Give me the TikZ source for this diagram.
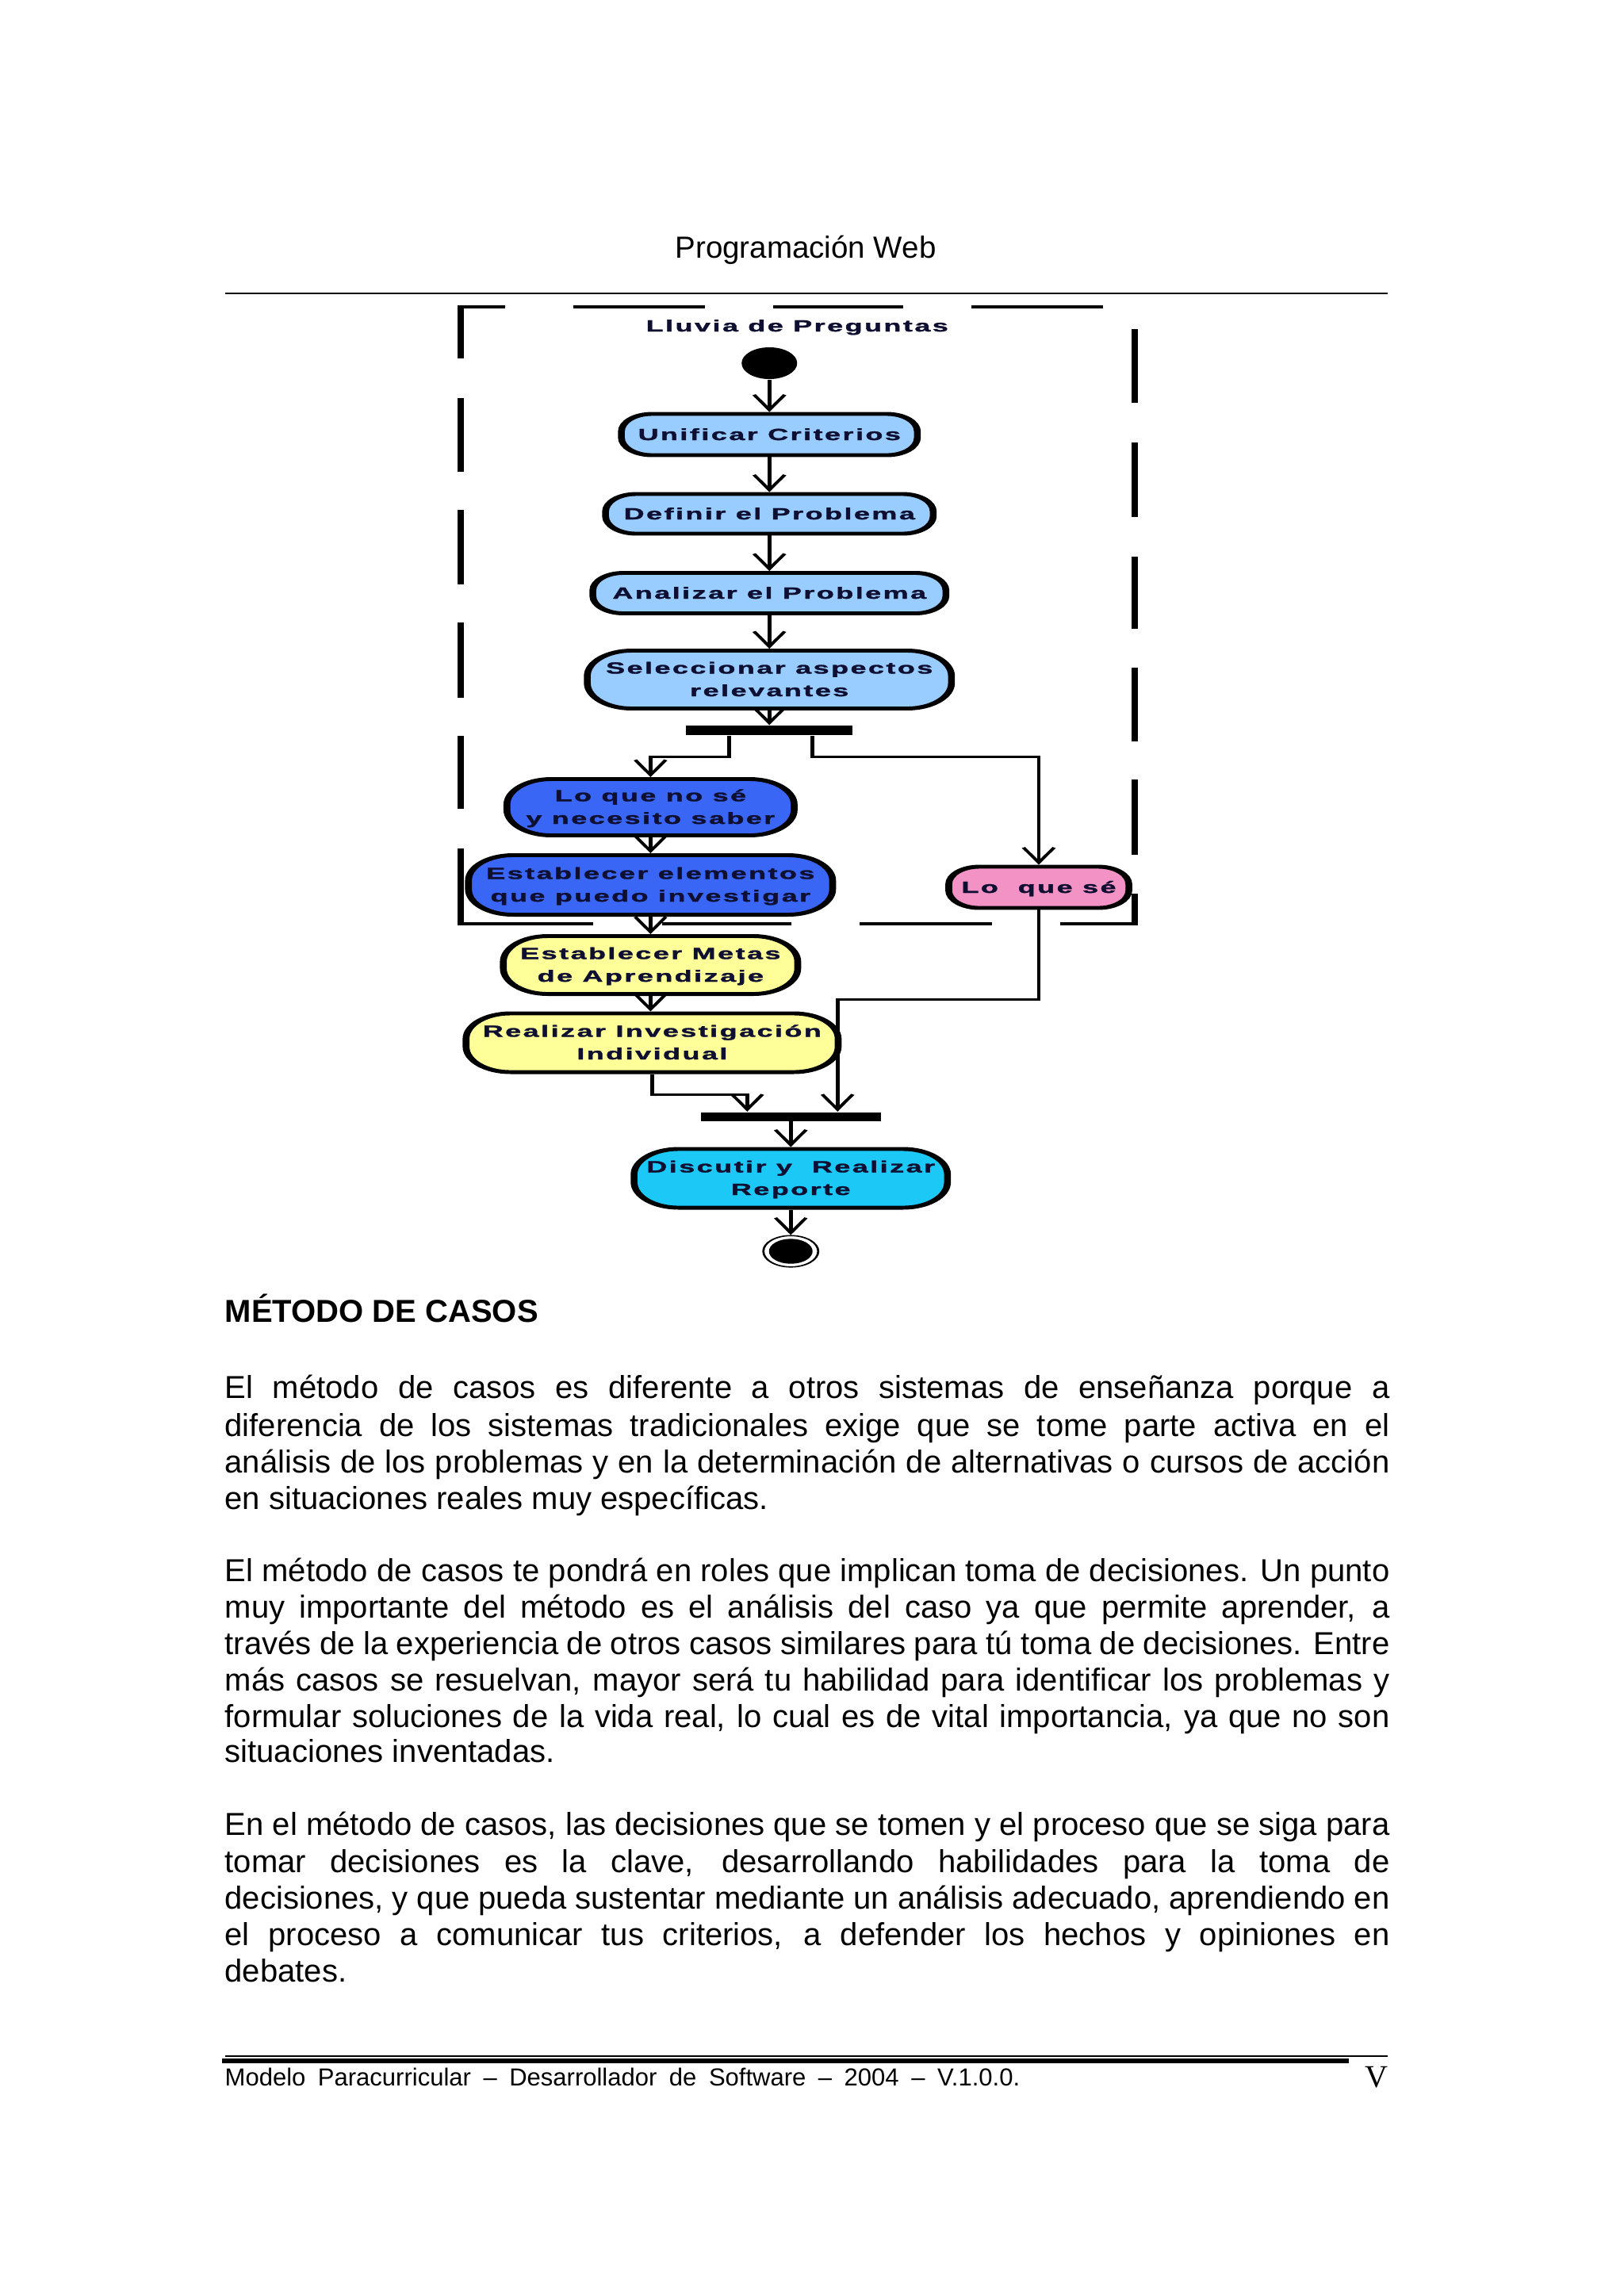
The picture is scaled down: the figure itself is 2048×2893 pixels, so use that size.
\documentclass[tikz,border=0pt]{standalone}
\usepackage{fontspec}
\usepackage{graphicx}
\setmainfont{Liberation Sans}
\newfontfamily\boxfont[LetterSpace=7, BoldFeatures={FakeBold=1.3}]{Liberation Sans}
\newfontfamily\serifV{Liberation Serif}
\usetikzlibrary{arrows.meta,calc}
\definecolor{lb}{RGB}{153,204,255}
\definecolor{db}{RGB}{58,102,246}
\definecolor{pk}{RGB}{243,146,197}
\definecolor{yl}{RGB}{255,255,153}
\definecolor{cy}{RGB}{28,200,245}
\definecolor{bxt}{RGB}{15,15,50}
\newcommand\onel[1]{\makebox[0pt]{\raisebox{-0.07cm}[0pt][0pt]{#1}}}
\newcommand\twol[2]{\makebox[0pt]{\raisebox{0.075cm}[0pt][0pt]{\makebox[0pt]{#1}}\raisebox{-0.21cm}[0pt][0pt]{\makebox[0pt]{#2}}}}
\newcommand\J[1]{\makebox[14.68cm][s]{#1}}
\tikzset{
  act/.style={draw=black, line width=1.4pt, rectangle, inner sep=0pt, rounded corners=0.22cm,
    font=\boxfont\bfseries\fontsize{5.83pt}{8pt}\selectfont, text=bxt},
  tall/.style={rounded corners=0.32cm},
  bw/.style={minimum width={#1/175*1cm}},
  bh/.style={minimum height={#1/100*1cm}},
  bar/.style={rectangle, fill=black, inner sep=0pt},
  conn/.style={line width=0.77pt, -{Straight Barb[length=0.19cm,width=0.22cm]}},
  frame/.style={line width=1.28pt, line cap=butt, line join=miter},
  jl/.style={anchor=base west, inner sep=0pt, font=\fontsize{11.38pt}{13pt}\selectfont},
}
\begin{document}
\begin{tikzpicture}[x=0.01cm,y=-0.01cm]
\useasboundingbox (0,0) rectangle (2048,2893);
\fill[white] (0,0) rectangle (2048,2893);
% header
\node[anchor=base, inner sep=0pt, font=\fontsize{10.95pt}{13pt}\selectfont] (hdr) at (1016,325) {Programación Web};
\draw[line width=0.77pt] (284,370) -- (1750,370);
% diagram (horizontally stretched)
\begin{scope}[transform canvas={xscale=1.75}, x=0.0057143cm]
  % dashed frame, drawn dash by dash
  \draw[frame] (581,452) -- (581,387) -- (637,387);
  \draw[frame] (724,387) -- (890,387);
  \draw[frame] (976,387) -- (1140,387);
  \draw[frame] (1226,387) -- (1392,387);
  \draw[frame] (1432,415) -- (1432,508);
  \draw[frame] (1432,558) -- (1432,652);
  \draw[frame] (1432,702) -- (1432,793);
  \draw[frame] (1432,842) -- (1432,935);
  \draw[frame] (1432,983) -- (1432,1078);
  \draw[frame] (1432,1127) -- (1432,1165) -- (1338,1165);
  \draw[frame] (1252,1165) -- (1085,1165);
  \draw[frame] (999,1165) -- (836,1165);
  \draw[frame] (749,1165) -- (581,1165) -- (581,1070);
  \draw[frame] (581,1020) -- (581,928);
  \draw[frame] (581,880) -- (581,785);
  \draw[frame] (581,737) -- (581,643);
  \draw[frame] (581,595) -- (581,502);
  \node[act, draw=none, fill=none] (ttl) at (1006,411) {\onel{Lluvia de Preguntas}};
  \node[circle, fill=black, minimum size=0.4cm, inner sep=0pt] (start) at (971,458) {};
  \node[act, fill=lb, bw=373, bh=52] (uni) at (971,548) {\onel{Unificar Criterios}};
  \node[act, fill=lb, bw=413, bh=50] (def) at (971,648) {\onel{Definir el Problema}};
  \node[act, fill=lb, bw=445, bh=51] (ana) at (971,748) {\onel{Analizar el Problema}};
  \node[act, tall, fill=lb, bw=459, bh=73] (sel) at (971,857) {\twol{Seleccionar aspectos}{relevantes}};
  \node[bar, bw=210, bh=12] (fork) at (971,921) {};
  \node[act, tall, fill=db, bw=362, bh=71] (nosabe) at (821,1018) {\twol{Lo que no sé}{y necesito saber}};
  \node[act, tall, fill=db, bw=459, bh=75] (elem) at (821,1116) {\twol{Establecer elementos}{que puedo investigar}};
  \node[act, fill=pk, bw=227, bh=52] (sabe) at (1311,1119) {\onel{Lo\ \ que sé}};
  \node[act, tall, fill=yl, bw=371, bh=73] (metas) at (821,1217) {\twol{Establecer Metas}{de Aprendizaje}};
  \node[act, tall, fill=yl, bw=469, bh=74] (real) at (823,1315) {\twol{Realizar Investigación}{Individual}};
  \node[bar, bw=227, bh=11] (join) at (998,1408) {};
  \node[act, tall, fill=cy, bw=395, bh=74] (disc) at (998,1486) {\twol{Discutir y\ \ Realizar}{Reporte}};
  \node[circle, draw=black, line width=0.45pt, fill=white, minimum size=0.395cm, inner sep=0pt] (fin) at (998,1578) {};
  \fill[black] (fin.center) circle (0.157cm);
  % connectors
  \draw[conn] (start) -- (uni);
  \draw[conn] (uni) -- (def);
  \draw[conn] (def) -- (ana);
  \draw[conn] (ana) -- (sel);
  \draw[conn] (sel) -- (fork);
  \draw[conn] ($(fork.south)+(-51,0)$) -- ++(0,27) -| (nosabe.north);
  \draw[conn] ($(fork.south)+(54,0)$) -- ++(0,27) -| (sabe.north);
  \draw[conn] (nosabe) -- (elem);
  \draw[conn] (elem) -- (metas);
  \draw[conn] (metas.south) -- (metas.south |- real.north);
  \draw[conn] (real.south) -- ++(0,26) -| ($(join.north)+(-55,0)$);
  \draw[conn] (sabe.south) -- ++(0,113) -| ($(join.north)+(59,0)$);
  \draw[conn] (join) -- (disc);
  \draw[conn] (disc) -- (fin);
\end{scope}
% text
\node[anchor=base west, inner sep=0pt, font=\bfseries\fontsize{11.38pt}{13pt}\selectfont] (h2) at (283,1667) {MÉTODO DE CASOS};
\node[jl] (t1) at (283,1763) {\J{El método de casos es diferente a otros sistemas de enseñanza porque a}};
\node[jl] (t2) at (283,1811) {\J{diferencia de los sistemas tradicionales exige que se tome parte activa en el}};
\node[jl] (t3) at (283,1857) {\J{análisis de los problemas y en la determinación de alternativas o cursos de acción}};
\node[jl] (t4) at (283,1903) {en situaciones reales muy específicas.};
\node[jl] (t5) at (283,1994) {\J{El método de casos te pondrá en roles que implican toma de decisiones. Un punto}};
\node[jl] (t6) at (283,2040) {\J{muy importante del método es el análisis del caso ya que permite aprender, a}};
\node[jl] (t7) at (283,2086) {\J{través de la experiencia de otros casos similares para tú toma de decisiones. Entre}};
\node[jl] (t8) at (283,2132) {\J{más casos se resuelvan, mayor será tu habilidad para identificar los problemas y}};
\node[jl] (t9) at (283,2178) {\J{formular soluciones de la vida real, lo cual es de vital importancia, ya que no son}};
\node[jl] (t10) at (283,2222) {situaciones inventadas.};
\node[jl] (t11) at (283,2314) {\J{En el método de casos, las decisiones que se tomen y el proceso que se siga para}};
\node[jl] (t12) at (283,2361) {\J{tomar decisiones es la clave, desarrollando habilidades para la toma de}};
\node[jl] (t13) at (283,2407) {\J{decisiones, y que pueda sustentar mediante un análisis adecuado, aprendiendo en}};
\node[jl] (t14) at (283,2453) {\J{el proceso a comunicar tus criterios, a defender los hechos y opiniones en}};
\node[jl] (t15) at (283,2499) {debates.};
% footer
\draw[line width=0.6pt] (284,2593) -- (1750,2593);
\draw[line width=1.45pt] (280,2599) -- (1701,2599);
\node[anchor=base west, inner sep=0pt, font=\fontsize{8.82pt}{11pt}\selectfont] (ft) at (283,2630) {\makebox[10.02cm][s]{Modelo Paracurricular – Desarrollador de Software – 2004 – V.1.0.0.}};
\node[anchor=base east, inner sep=0pt, font=\serifV\fontsize{11.4pt}{13pt}\selectfont] (pg) at (1751,2632) {V};
\end{tikzpicture}
\end{document}
